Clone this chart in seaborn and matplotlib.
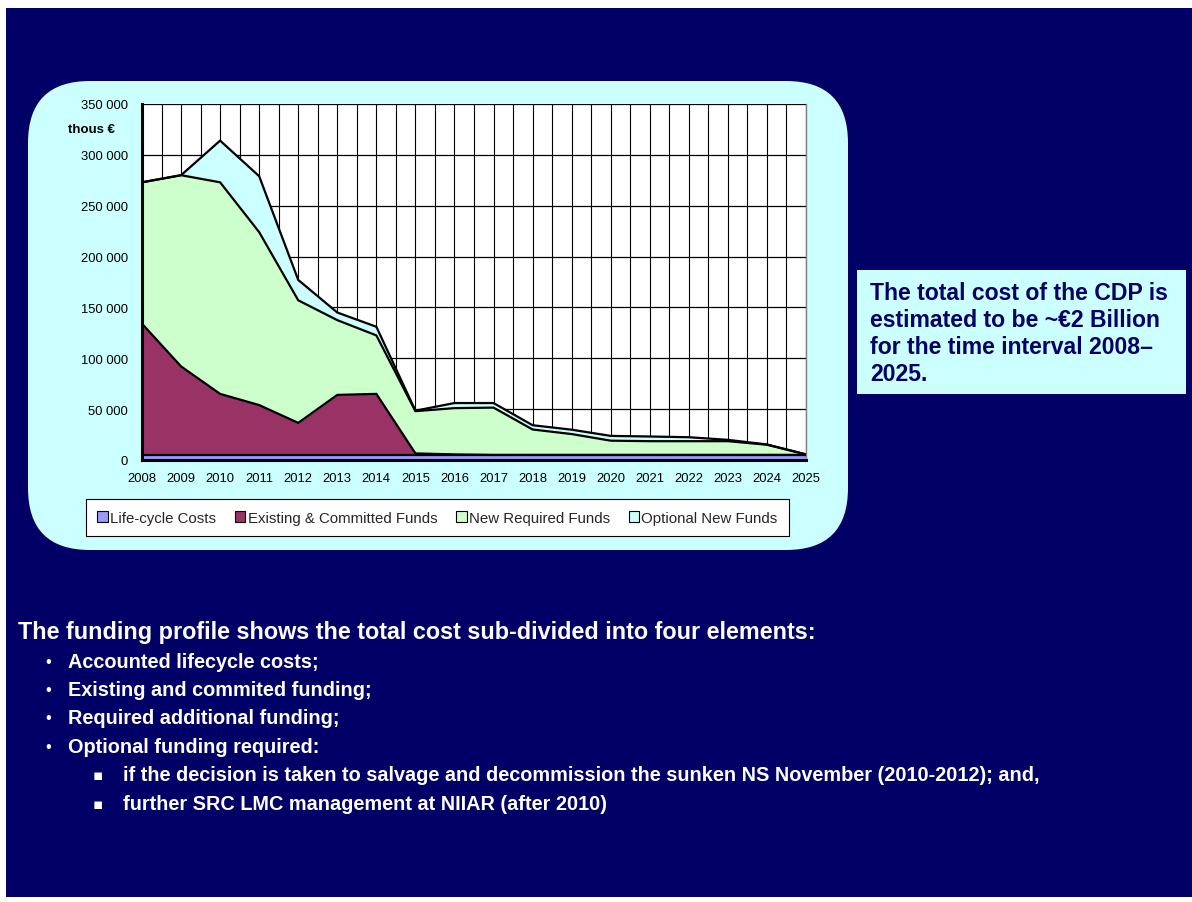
import numpy as np
import pandas as pd
import matplotlib
matplotlib.use("Agg")
import matplotlib.pyplot as plt
import seaborn as sns
from matplotlib.patches import FancyBboxPatch, Rectangle, Patch
from matplotlib.ticker import FuncFormatter, MultipleLocator

# ---------------- data ----------------
years = list(range(2008, 2026))
lifecycle = [5000] * 18
existing = [129000, 87000, 60000, 49000, 31500, 59000, 60000, 1500, 500,
            0, 0, 0, 0, 0, 0, 0, 0, 0]
new_required = [139000, 188000, 208000, 170000, 120500, 73500, 57500, 41500, 45500,
                46500, 25000, 20500, 14000, 13500, 13500, 13500, 10000, 500]
optional = [0, 0, 41000, 55000, 20000, 7500, 8500, 500, 5000,
            4500, 4200, 4300, 4700, 4600, 3900, 1300, 300, 0]
series_names = ["Life-cycle Costs", "Existing & Committed Funds",
                "New Required Funds", "Optional New Funds"]
colors = ["#9999FF", "#993366", "#CCFFCC", "#CCFFFF"]
y_ticks = [0, 50000, 100000, 150000, 200000, 250000, 300000, 350000]

heading = "The funding profile shows the total cost sub-divided into four elements:"
bullets = ["Accounted lifecycle costs;", "Existing and commited funding;",
           "Required additional funding;", "Optional funding required:"]
subbullets = ["if the decision is taken to salvage and decommission the sunken NS November (2010-2012); and,",
              "further SRC LMC management at NIIAR (after 2010)"]
box_lines = ["The total cost of the CDP is", "estimated to be ~\u20ac2 Billion",
             "for the time interval 2008\u2013", "2025."]

# ---------------- style ----------------
sns.set_theme(style="white")
plt.rcParams["font.family"] = ["Liberation Sans", "DejaVu Sans"]

W, H = 1192, 903
NAVY = "#000066"
fig = plt.figure(figsize=(W / 100, H / 100), dpi=100, facecolor="white")


def Y(py):
    return H - py


# background layer in pixel coordinates
bg = fig.add_axes([0, 0, 1, 1], zorder=0)
bg.set_xlim(0, W)
bg.set_ylim(0, H)
bg.axis("off")
bg.add_patch(Rectangle((6, Y(898)), W - 6, 889, fc=NAVY, ec="none"))
bg.add_patch(FancyBboxPatch((28, Y(551)), 820, 469,
                            boxstyle="round,pad=0,rounding_size=62",
                            fc="#CCFFFF", ec="none"))
# right text box
bg.add_patch(Rectangle((857, Y(395)), 329, 124, fc="#CCFFFF", ec="none"))
for i, line in enumerate(box_lines):
    bg.text(870, Y(293 + i * 27.3), line, fontsize=16.6, fontweight="bold",
            color=NAVY, va="center", ha="left")

# bottom text
bg.text(18, Y(632), heading, fontsize=16.85, fontweight="bold", color="white",
        va="center", ha="left")
for i, b in enumerate(bullets):
    yy = Y(662 + i * 28.4)
    bg.text(48, yy, "\u2022", fontsize=12, color="white", va="center", ha="center")
    bg.text(68, yy, b, fontsize=14.3, fontweight="bold", color="white",
            va="center", ha="left")
for i, b in enumerate(subbullets):
    yy = Y(776 + i * 29)
    bg.text(98, yy, "\u25aa", fontsize=11, color="white", va="center", ha="center",
            family=["DejaVu Sans"])
    bg.text(123, yy, b, fontsize=14.3, fontweight="bold", color="white",
            va="center", ha="left")

# "thous €" label
bg.text(68, Y(130), "thous \u20ac", fontsize=9.5, fontweight="bold",
        color="black", va="center", ha="left")

# ---------------- chart ----------------
ax = fig.add_axes([142 / W, (H - 461) / H, 664 / W, 356 / H], zorder=2)
ax.set_facecolor("white")

layers = np.array([lifecycle, existing, new_required, optional], dtype=float)
cum = np.cumsum(layers, axis=0)
lower = np.zeros(len(years))
for name, col, top in zip(series_names, colors, cum):
    ax.fill_between(years, lower, top, color=col, linewidth=0, zorder=2)
    lower = top

rows = []
for name, top in zip(series_names, cum):
    for yr, v in zip(years, top):
        rows.append({"year": yr, "value": v, "series": name})
df = pd.DataFrame(rows)
sns.lineplot(data=df, x="year", y="value", units="series", estimator=None,
             color="black", linewidth=1.6, ax=ax, zorder=3, legend=False)

ax.set_xlim(2008, 2025)
ax.set_ylim(0, 350000)
ax.set_xticks(years)
ax.set_xticklabels([str(y) for y in years])
ax.set_yticks(y_ticks)
ax.yaxis.set_major_formatter(FuncFormatter(lambda v, p: f"{int(v):,}".replace(",", " ")))
ax.xaxis.set_minor_locator(MultipleLocator(0.5))
ax.set_axisbelow(True)
ax.grid(which="both", axis="x", color="black", linewidth=0.8)
ax.grid(which="major", axis="y", color="black", linewidth=0.9)
ax.set_xlabel("")
ax.set_ylabel("")

for s in ["left", "bottom"]:
    ax.spines[s].set_color("black")
    ax.spines[s].set_linewidth(2.2)
    ax.spines[s].set_zorder(4)
ax.spines["top"].set_visible(False)
ax.spines["right"].set_color("#808080")
ax.spines["right"].set_linewidth(1)

ax.tick_params(axis="both", which="major", direction="out", length=5, width=2,
               color="black", labelsize=9.4, labelcolor="black")
ax.tick_params(axis="y", pad=5)
ax.tick_params(axis="x", pad=4)
ax.tick_params(axis="x", which="minor", length=0)

# legend
handles = [Patch(fc=c, ec="black", lw=0.8) for c in colors]
leg = fig.legend(handles, series_names, loc="center",
                 bbox_to_anchor=(437.5 / W, Y(518.5) / H), ncol=4,
                 frameon=True, fancybox=False, edgecolor="black", framealpha=1,
                 fontsize=10.8, handlelength=0.7, handleheight=0.7,
                 handletextpad=0.15, columnspacing=1.25, borderpad=0.75)
leg.get_frame().set_linewidth(0.8)
leg.set_zorder(5)

fig.savefig("out.png", dpi=100, facecolor="white")
